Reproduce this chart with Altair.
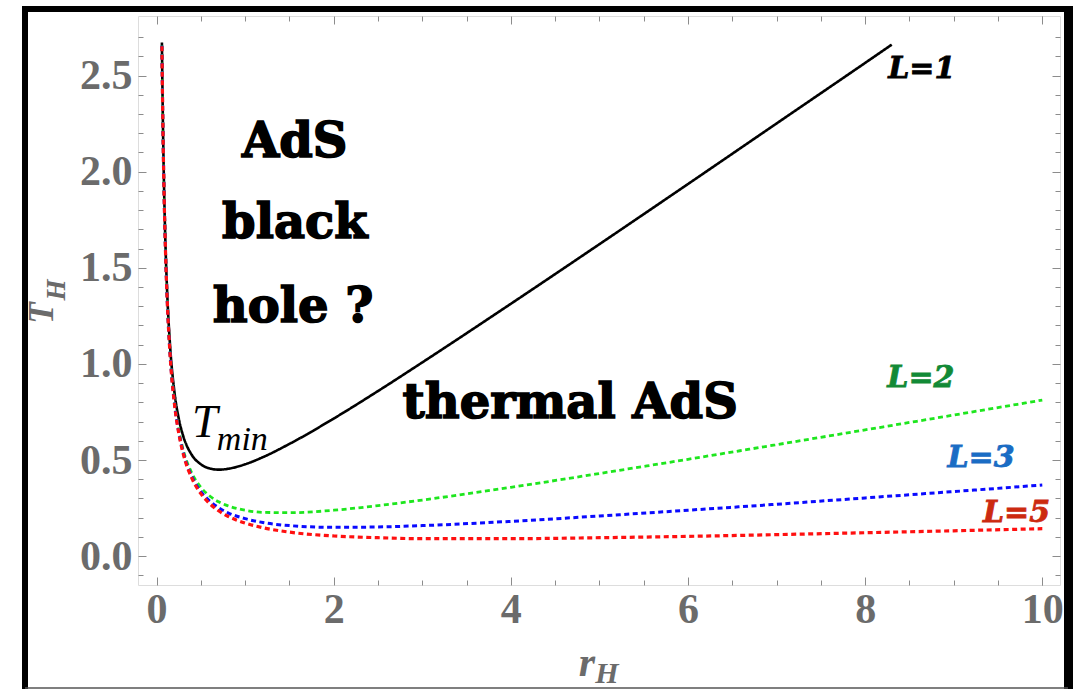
import altair as alt
import pandas as pd

# ---- values ----
r_L1 = [0.06, 0.07, 0.08, 0.10, 0.12, 0.15, 0.20, 0.25, 0.30, 0.40, 0.50, 0.60, 0.70,
        0.80, 1.00, 1.20, 1.50, 2.0, 2.5, 3.0, 4.0, 5.0, 6.0, 7.0, 8.0, 8.3]
T_L1 = [2.672, 2.296, 2.015, 1.623, 1.365, 1.109, 0.859, 0.716, 0.626, 0.525, 0.478, 0.456, 0.450,
        0.454, 0.478, 0.515, 0.584, 0.716, 0.859, 1.008, 1.313, 1.623, 1.936, 2.251, 2.566, 2.661]

r_all = [0.06, 0.07, 0.08, 0.10, 0.12, 0.15, 0.20, 0.25, 0.30, 0.40, 0.50, 0.60, 0.70,
         0.80, 1.00, 1.20, 1.50, 2.0, 2.5, 3.0, 4.0, 5.0, 6.0, 7.0, 8.0, 9.0, 10.0]
T_L2 = [2.657, 2.279, 1.996, 1.600, 1.336, 1.073, 0.812, 0.657, 0.554, 0.430, 0.358, 0.313, 0.283,
        0.263, 0.239, 0.228, 0.226, 0.239, 0.263, 0.292, 0.358, 0.430, 0.504, 0.580, 0.657, 0.734, 0.812]
T_L3 = [2.655, 2.276, 1.992, 1.595, 1.331, 1.066, 0.803, 0.645, 0.541, 0.412, 0.336, 0.287, 0.252,
        0.227, 0.195, 0.175, 0.159, 0.150, 0.152, 0.159, 0.181, 0.209, 0.239, 0.270, 0.303, 0.336, 0.370]
T_L5 = [2.653, 2.275, 1.990, 1.593, 1.328, 1.063, 0.798, 0.640, 0.534, 0.403, 0.325, 0.273, 0.236,
        0.209, 0.172, 0.148, 0.125, 0.105, 0.096, 0.091, 0.091, 0.096, 0.103, 0.112, 0.122, 0.132, 0.143]

series_names = ["L=1", "L=2", "L=3", "L=5"]
line_colors = ["#000000", "#1ee61e", "#0a0aff", "#ff1010"]
label_colors = ["#000000", "#128a36", "#1a6cc4", "#cc2a10"]

x_major = [0, 2, 4, 6, 8, 10]
x_minor = [0.5, 1.0, 1.5, 2.5, 3.0, 3.5, 4.5, 5.0, 5.5, 6.5, 7.0, 7.5, 8.5, 9.0, 9.5, 10.0]
y_major = [0.0, 0.5, 1.0, 1.5, 2.0, 2.5]
y_minor = [-0.1, 0.1, 0.2, 0.3, 0.4, 0.6, 0.7, 0.8, 0.9, 1.1, 1.2, 1.3, 1.4, 1.6, 1.7, 1.8,
           1.9, 2.1, 2.2, 2.3, 2.4, 2.6, 2.7]

x_domain = [-0.21, 10.2]
y_domain = [-0.15, 2.81]

# region annotations (data coordinates)
region_text = ["AdS", "black", "hole ?", "thermal AdS"]
region_x = [1.56, 1.56, 1.54, 4.67]
region_y = [2.076, 1.655, 1.217, 0.718]

# series labels
lab_x = [8.26, 8.25, 8.93, 9.33]
lab_y = [2.487, 0.879, 0.463, 0.177]

# T_min label
tmin_text = ["T", "min"]
tmin_x = [0.40, 0.68]
tmin_y = [0.619, 0.552]
tmin_size = [46, 34]

# ---- build tables ----
rows = []
for r, t in zip(r_L1, T_L1):
    rows.append({"r": r, "T": t, "L": "L=1"})
for name, ts in zip(["L=2", "L=3", "L=5"], [T_L2, T_L3, T_L5]):
    for r, t in zip(r_all, ts):
        rows.append({"r": r, "T": t, "L": name})
curves = pd.DataFrame(rows)

regions = pd.DataFrame({"txt": region_text, "x": region_x, "y": region_y})
labels = pd.DataFrame({"txt": series_names, "x": lab_x, "y": lab_y, "L": series_names})
tmin = pd.DataFrame({"txt": tmin_text, "x": tmin_x, "y": tmin_y, "s": tmin_size})
one = pd.DataFrame({"a": [0]})

TICK = "#8c8c8c"
LAB = "#6b6b6b"


def ax(orient, values, size, labels=False, **kw):
    base = dict(orient=orient, values=values, tickSize=size, offset=-size, domain=False,
                grid=False, title=None, tickColor=TICK, tickWidth=1, labels=labels)
    base.update(kw)
    return alt.Axis(**base)


xsc = alt.Scale(domain=x_domain, nice=False, zero=False)
ysc = alt.Scale(domain=y_domain, nice=False, zero=False)

label_style = dict(labelFont="Liberation Serif", labelFontWeight="bold", labelFontSize=42,
                   labelColor=LAB, labelFlush=False)

curve_layer = alt.Chart(curves).mark_line(interpolate="monotone").encode(
    x=alt.X("r:Q", scale=xsc,
            axis=ax("bottom", x_major, 8, labels=True, labelPadding=4, format="d", **label_style)),
    y=alt.Y("T:Q", scale=ysc,
            axis=ax("left", y_major, 8, labels=True, labelPadding=6, format=".1f", **label_style)),
    color=alt.Color("L:N", scale=alt.Scale(domain=series_names, range=line_colors), legend=None),
    strokeDash=alt.StrokeDash("L:N", scale=alt.Scale(domain=series_names,
                                                     range=[[1, 0], [5, 3.5], [5, 3.5], [5, 3.5]]),
                              legend=None),
    strokeWidth=alt.StrokeWidth("L:N", scale=alt.Scale(domain=series_names,
                                                       range=[2.6, 3.2, 3.2, 3.2]),
                                legend=None),
)

region_layer = alt.Chart(regions).mark_text(
    font="DejaVu Serif", fontWeight="bold", fontSize=48, color="black",
    stroke="black", strokeWidth=1.6,
    align="center", baseline="alphabetic"
).encode(
    x=alt.X("x:Q", scale=xsc, axis=ax("bottom", x_minor, 5)),
    y=alt.Y("y:Q", scale=ysc, axis=ax("left", y_minor, 5)),
    text="txt:N",
)

label_layer = alt.Chart(labels).mark_text(
    font="DejaVu Serif", fontWeight="bold", fontStyle="italic", fontSize=30,
    strokeWidth=0.8, align="left", baseline="alphabetic"
).encode(
    x=alt.X("x:Q", scale=xsc, axis=ax("top", x_major, 8)),
    y=alt.Y("y:Q", scale=ysc, axis=ax("right", y_major, 8)),
    text="txt:N",
    color=alt.Color("L:N", scale=alt.Scale(domain=series_names, range=label_colors), legend=None),
    stroke=alt.Stroke("L:N", scale=alt.Scale(domain=series_names, range=label_colors), legend=None),
)

tmin_layer = alt.Chart(tmin).mark_text(
    font="Liberation Serif", fontStyle="italic", color="black",
    align="left", baseline="alphabetic"
).encode(
    x=alt.X("x:Q", scale=xsc, axis=ax("top", x_minor, 5)),
    y=alt.Y("y:Q", scale=ysc, axis=ax("right", y_minor, 5)),
    text="txt:N",
    size=alt.Size("s:Q", scale=None, legend=None),
)

# axis titles (outside the plot area, pixel positions)
tt_T = alt.Chart(one).mark_text(font="Liberation Serif", fontWeight="bold", fontStyle="italic",
                                fontSize=35, color=LAB, angle=270, align="center",
                                baseline="alphabetic").encode(
    x=alt.value(-85), y=alt.value(297), text=alt.value("T"))
tt_TH = alt.Chart(one).mark_text(font="Liberation Serif", fontWeight="bold", fontStyle="italic",
                                 fontSize=27, color=LAB, angle=270, align="center",
                                 baseline="alphabetic").encode(
    x=alt.value(-73), y=alt.value(274), text=alt.value("H"))
tt_r = alt.Chart(one).mark_text(font="Liberation Serif", fontWeight="bold", fontStyle="italic",
                                fontSize=42, color=LAB, align="center",
                                baseline="alphabetic").encode(
    x=alt.value(449), y=alt.value(660), text=alt.value("r"))
tt_rH = alt.Chart(one).mark_text(font="Liberation Serif", fontWeight="bold", fontStyle="italic",
                                 fontSize=30, color=LAB, align="center",
                                 baseline="alphabetic").encode(
    x=alt.value(469), y=alt.value(667), text=alt.value("H"))

# outer picture frame
fr_left = alt.Chart(one).mark_rule(color="black", strokeWidth=6).encode(
    x=alt.value(-113), y=alt.value(-10), y2=alt.value(673))
fr_top = alt.Chart(one).mark_rule(color="black", strokeWidth=6).encode(
    y=alt.value(-7), x=alt.value(-116), x2=alt.value(935))
fr_right = alt.Chart(one).mark_rule(color="black", strokeWidth=9).encode(
    x=alt.value(930.5), y=alt.value(-10), y2=alt.value(673))
fr_bottom = alt.Chart(one).mark_rule(color="#555555", strokeWidth=1.5).encode(
    y=alt.value(672), x=alt.value(-113), x2=alt.value(930))

chart = alt.layer(
    curve_layer, region_layer, label_layer, tmin_layer,
    tt_T, tt_TH, tt_r, tt_rH, fr_left, fr_top, fr_right, fr_bottom
).resolve_scale(
    x="independent", y="independent", color="independent"
).properties(
    width=922, height=569,
    autosize=alt.AutoSizeParams(type="none"),
    padding={"left": 138, "top": 16, "right": 16, "bottom": 104},
).configure_view(
    stroke="#8c8c8c", strokeWidth=1
).configure(background="white")

chart.save("out.html", embed_options={"renderer": "svg", "actions": False})
